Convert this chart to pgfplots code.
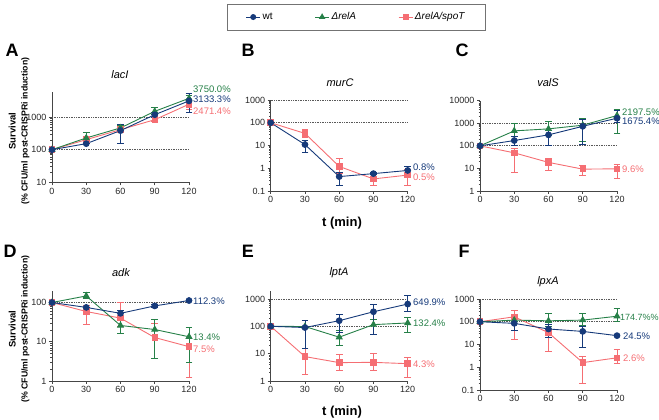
\documentclass[border=0pt]{standalone}
\usepackage{fontspec}
\setmainfont{Liberation Sans}
\usepackage{pgfplots}
\pgfplotsset{compat=1.18}
\usepackage{pgfplotstable}
\definecolor{cwt}{RGB}{22,58,122}
\definecolor{crel}{RGB}{38,128,72}
\definecolor{cspo}{RGB}{245,110,115}
\definecolor{axc}{RGB}{70,70,70}

% columns: x y (plus error) (minus error)
\pgfplotstableread{
x y p m
0 100 0 0
30 153 0 0
60 385 215 230
90 1180 220 180
120 3133.3 2270 1730
}\Awt
\pgfplotstableread{
x y p m
0 100 0 0
30 229 111 29
60 465 95 65
90 1500 500 300
120 3750 750 750
}\Arel
\pgfplotstableread{
x y p m
0 100 0 0
30 203 57 43
60 412 88 82
90 830 120 110
120 2471.4 730 770
}\Aspo
\pgfplotstableread{
x y p m
0 100 0 0
30 11 6 6
60 0.43 0.22 0.25
90 0.58 0.07 0.06
120 0.8 0.45 0.3
}\Bwt
\pgfplotstableread{
x y p m
0 100 0 0
30 34 16 12
60 1.2 1.5 0.6
90 0.34 0.21 0.17
120 0.5 0.35 0.32
}\Bspo
\pgfplotstableread{
x y p m
0 100 0 0
30 172 78 72
60 306 194 196
90 735 765 615
120 1675.4 2125 575
}\Cwt
\pgfplotstableread{
x y p m
0 100 0 0
30 460 540 210
60 565 635 265
90 820 830 660
120 2197.5 1803 1847
}\Crel
\pgfplotstableread{
x y p m
0 100 0 0
30 49 31 42.5
60 18.5 8.5 10.5
90 9.3 4.7 4.3
120 9.6 5.4 5.9
}\Cspo
\pgfplotstableread{
x y p m
0 100 0 0
30 75 0 0
60 53 9 8
90 82 10 7
120 112.3 0 0
}\Dwt
\pgfplotstableread{
x y p m
0 100 0 0
30 147 38 22
60 26 14 10
90 20.5 16.5 16.8
120 13.4 9.6 10.4
}\Drel
\pgfplotstableread{
x y p m
0 100 0 0
30 59 26 31
60 40 60 15
90 12.8 17.2 9.1
120 7.5 4.5 6.3
}\Dspo
\pgfplotstableread{
x y p m
0 100 0 0
30 90 70 75
60 160 110 100
90 340 280 290
120 649.9 650 300
}\Ewt
\pgfplotstableread{
x y p m
0 100 0 0
30 98 0 0
60 40 30 20
90 115 65 65
120 132.4 78 72
}\Erel
\pgfplotstableread{
x y p m
0 100 0 0
30 7.8 7.2 6
60 4.7 4.3 2.2
90 4.8 5.2 2.3
120 4.3 2.7 2.9
}\Espo
\pgfplotstableread{
x y p m
0 100 0 0
30 85 45 45
60 48 32 28
90 37.6 27.4 30.1
120 24.5 0 0
}\Fwt
\pgfplotstableread{
x y p m
0 100 0 0
30 118 12 18
60 110 130 50
90 118 122 48
120 174.7 225 75
}\Frel
\pgfplotstableread{
x y p m
0 100 0 0
30 165 135 149
60 33 27 28
90 1.6 1.4 1.4
120 2.6 3.4 1.1
}\Fspo

\pgfplotsset{
  every axis/.append style={
    scale only axis, width=137pt, anchor=south west,
    xmin=0, xmax=120, xtick={0,30,60,90,120},
    axis x line*=bottom, axis y line*=left,
    axis line style={line width=0.7pt, color=axc},
    tick style={line width=0.6pt, color=axc},
    tick align=outside, major tick length=3pt, minor tick length=1.5pt,
    log ticks with fixed point,
    tick label style={font=\fontsize{9}{10}\selectfont, color=black!85},
    xticklabel style={yshift=1pt},
    yticklabel style={xshift=1pt},
    clip=false,
  },
  refl/.style={densely dotted, line width=0.7pt, color=black!65, forget plot},
  ser/.style={line width=0.9pt, forget plot,
    error bars/y dir=both, error bars/y explicit,
    error bars/error bar style={line width=0.8pt},
    error bars/error mark options={rotate=90, mark size=3.4pt, line width=0.8pt}},
  wtS/.style={ser, color=cwt, mark=*, mark size=2.9pt},
  relS/.style={ser, color=crel, mark=triangle*, mark size=3.3pt},
  spoS/.style={ser, color=cspo, mark=square*, mark size=2.8pt},
}
\pgfkeys{/pgf/number format/1000 sep={}, /pgf/number format/assume math mode=true}
\tikzset{
  lab/.style={anchor=west, font=\fontsize{9.5}{11}\selectfont, inner sep=0pt},
  ttl/.style={font=\fontsize{11}{13}\selectfont\itshape},
  plet/.style={font=\fontsize{18}{21}\selectfont\bfseries},
}

\begin{document}
\begin{tikzpicture}
\useasboundingbox (0,0) rectangle (659pt,420pt);

% ---------- A ----------
\begin{axis}[ymode=log, at={(52pt,237.7pt)}, height=90.6pt, ymin=10, ymax=6000,
  ytick={10,100,1000},
  legend style={at={(2.222,1.824)}, anchor=center, legend columns=3,
    draw=black!55, line width=0.6pt, inner xsep=18pt, inner ysep=6.5pt,
    font=\fontsize{10}{12}\selectfont,
    /tikz/every even column/.append style={column sep=40pt}},
  legend cell align=left,
  legend image code/.code={\draw[mark repeat=2,mark phase=2] plot coordinates {(0pt,0pt) (7pt,0pt) (14pt,0pt)};}]
\addplot[refl] coordinates {(0,100) (120,100)};
\addplot[refl] coordinates {(0,1000) (120,1000)};
\addplot[spoS] table[x=x, y=y, y error plus=p, y error minus=m] {\Aspo};
\addplot[relS] table[x=x, y=y, y error plus=p, y error minus=m] {\Arel};
\addplot[wtS] table[x=x, y=y, y error plus=p, y error minus=m] {\Awt};
\addlegendimage{color=cwt, line width=0.9pt, mark=*, mark size=2.5pt}
\addlegendentry{wt}
\addlegendimage{color=crel, line width=0.9pt, mark=triangle*, mark size=2.9pt}
\addlegendentry{\textit{ΔrelA}}
\addlegendimage{color=cspo, line width=0.9pt, mark=square*, mark size=2.5pt}
\addlegendentry{\textit{ΔrelA/spoT}}
\end{axis}

% ---------- B ----------
\begin{axis}[ymode=log, at={(270.7pt,229pt)}, height=91pt, ymin=0.1, ymax=1000,
  ytick={0.1,1,10,100,1000}]
\addplot[refl] coordinates {(0,100) (120,100)};
\addplot[refl] coordinates {(0,1000) (120,1000)};
\addplot[spoS] table[x=x, y=y, y error plus=p, y error minus=m] {\Bspo};
\addplot[wtS] table[x=x, y=y, y error plus=p, y error minus=m] {\Bwt};
\end{axis}

% ---------- C ----------
\begin{axis}[ymode=log, at={(480pt,229pt)}, height=90.3pt, ymin=1, ymax=10000,
  ytick={1,10,100,1000,10000}]
\addplot[refl] coordinates {(0,100) (120,100)};
\addplot[refl] coordinates {(0,1000) (120,1000)};
\addplot[spoS] table[x=x, y=y, y error plus=p, y error minus=m] {\Cspo};
\addplot[relS] table[x=x, y=y, y error plus=p, y error minus=m] {\Crel};
\addplot[wtS] table[x=x, y=y, y error plus=p, y error minus=m] {\Cwt};
\end{axis}

% ---------- D ----------
\begin{axis}[ymode=log, at={(52pt,39pt)}, height=90.3pt, ymin=1, ymax=200,
  ytick={1,10,100}]
\addplot[refl] coordinates {(0,100) (120,100)};
\addplot[spoS] table[x=x, y=y, y error plus=p, y error minus=m] {\Dspo};
\addplot[relS] table[x=x, y=y, y error plus=p, y error minus=m] {\Drel};
\addplot[wtS] table[x=x, y=y, y error plus=p, y error minus=m] {\Dwt};
\end{axis}

% ---------- E ----------
\begin{axis}[ymode=log, at={(270.7pt,39pt)}, height=90.3pt, ymin=1, ymax=2000,
  ytick={1,10,100,1000}]
\addplot[refl] coordinates {(0,100) (120,100)};
\addplot[refl] coordinates {(0,1000) (120,1000)};
\addplot[spoS] table[x=x, y=y, y error plus=p, y error minus=m] {\Espo};
\addplot[relS] table[x=x, y=y, y error plus=p, y error minus=m] {\Erel};
\addplot[wtS] table[x=x, y=y, y error plus=p, y error minus=m] {\Ewt};
\end{axis}

% ---------- F ----------
\begin{axis}[ymode=log, at={(480pt,30pt)}, height=91pt, ymin=0.1, ymax=1000,
  ytick={0.1,1,10,100,1000}]
\addplot[refl] coordinates {(0,100) (120,100)};
\addplot[refl] coordinates {(0,1000) (120,1000)};
\addplot[spoS] table[x=x, y=y, y error plus=p, y error minus=m] {\Fspo};
\addplot[relS] table[x=x, y=y, y error plus=p, y error minus=m] {\Frel};
\addplot[wtS] table[x=x, y=y, y error plus=p, y error minus=m] {\Fwt};
\end{axis}

% ---------- titles ----------
\node[ttl] at (120pt,345pt) {lacI};
\node[ttl] at (340pt,337pt) {murC};
\node[ttl] at (548pt,337pt) {valS};
\node[ttl] at (121pt,147pt) {adk};
\node[ttl] at (339pt,147pt) {lptA};
\node[ttl] at (548pt,138pt) {lpxA};

% ---------- panel letters ----------
\node[plet] at (12pt,370pt) {A};
\node[plet] at (248pt,370pt) {B};
\node[plet] at (462pt,370pt) {C};
\node[plet] at (10pt,169pt) {D};
\node[plet] at (248pt,169pt) {E};
\node[plet] at (464pt,169pt) {F};

% ---------- axis titles ----------
\node[rotate=90, align=center, inner sep=0pt] at (19pt,289pt)
  {{\fontsize{9.5}{11}\selectfont\bfseries Survival}\\[0pt]{\fontsize{8.7}{10}\selectfont\bfseries (\% CFU/ml post-CRISPRi induction)}};
\node[rotate=90, align=center, inner sep=0pt] at (19pt,91pt)
  {{\fontsize{9.5}{11}\selectfont\bfseries Survival}\\[0pt]{\fontsize{8.7}{10}\selectfont\bfseries (\% CFU/ml post-CRISPRi induction)}};
\node[font=\fontsize{13}{15}\selectfont\bfseries] at (342pt,197pt) {t (min)};
\node[font=\fontsize{13}{15}\selectfont\bfseries] at (342pt,8pt) {t (min)};

% ---------- end labels ----------
\node[lab, color=crel] at (193pt,331pt) {3750.0\%};
\node[lab, color=cwt]  at (193pt,321pt) {3133.3\%};
\node[lab, color=cspo] at (193pt,309pt) {2471.4\%};
\node[lab, color=cwt]  at (413pt,253pt) {0.8\%};
\node[lab, color=cspo] at (413pt,243pt) {0.5\%};
\node[lab, color=crel] at (622pt,308pt) {2197.5\%};
\node[lab, color=cwt]  at (622pt,299pt) {1675.4\%};
\node[lab, color=cspo] at (622pt,251pt) {9.6\%};
\node[lab, color=cwt]  at (193pt,119pt) {112.3\%};
\node[lab, color=crel] at (193pt,83pt) {13.4\%};
\node[lab, color=cspo] at (193pt,71pt) {7.5\%};
\node[lab, color=cwt]  at (413pt,118pt) {649.9\%};
\node[lab, color=crel] at (413pt,97pt) {132.4\%};
\node[lab, color=cspo] at (413pt,56pt) {4.3\%};
\node[lab, color=crel, font=\fontsize{9}{10}\selectfont] at (620pt,103pt) {174.7\%\%};
\node[lab, color=cwt]  at (623pt,84pt) {24.5\%};
\node[lab, color=cspo] at (623pt,62pt) {2.6\%};
\end{tikzpicture}
\end{document}
